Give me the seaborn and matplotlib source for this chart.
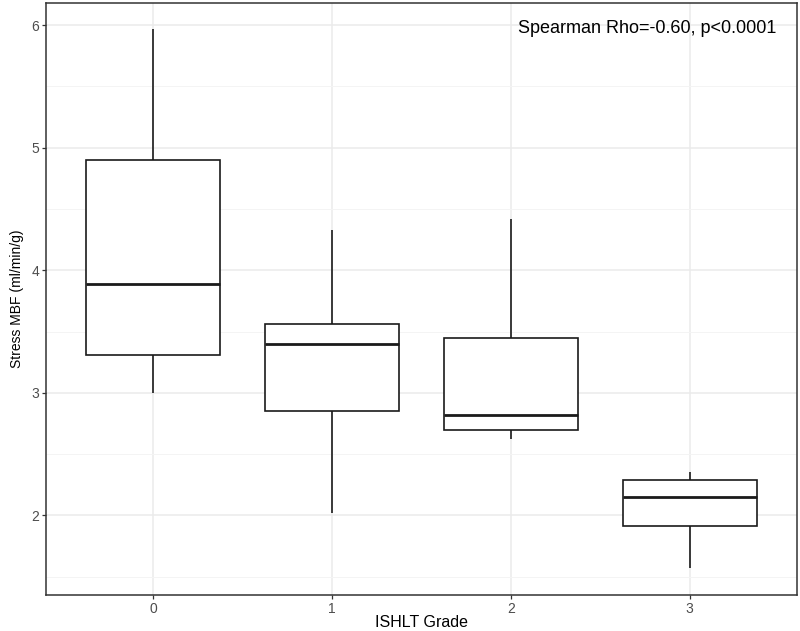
import matplotlib
matplotlib.use("Agg")
import matplotlib.pyplot as plt
from matplotlib.ticker import MultipleLocator
import numpy as np
import pandas as pd
import seaborn as sns

# five-number summaries (ml/min/g)
grades = ["0", "1", "2", "3"]
whisker_low = [3.00, 2.02, 2.62, 1.57]
q1 = [3.31, 2.85, 2.70, 1.91]
median = [3.89, 3.40, 2.82, 2.15]
q3 = [4.90, 3.56, 3.45, 2.29]
whisker_high = [5.97, 4.33, 4.42, 2.35]

annot = "Spearman Rho=-0.60, p<0.0001"

rows = []
for i, g in enumerate(grades):
    for v in (whisker_low[i], q1[i], median[i], q3[i], whisker_high[i]):
        rows.append((g, v))
df = pd.DataFrame(rows, columns=["ISHLT Grade", "Stress MBF (ml/min/g)"])

sns.set_style("white")
plt.rcParams["font.family"] = ["Liberation Sans", "DejaVu Sans"]

fig = plt.figure(figsize=(8, 6.31), dpi=100)
ax = fig.add_axes([0.0575, 0.057, 0.9385, 0.938])

line_col = "#1a1a1a"
sns.boxplot(data=df, x="ISHLT Grade", y="Stress MBF (ml/min/g)", order=grades,
            whis=(0, 100), width=0.75, color="white", linecolor=line_col,
            linewidth=1.2, showcaps=False, showfliers=False,
            medianprops=dict(linewidth=2.0, color=line_col), ax=ax, zorder=3)

ax.set_xlim(-0.6, 3.6)
ax.set_ylim(1.35, 6.18)
ax.yaxis.set_major_locator(MultipleLocator(1))
ax.yaxis.set_minor_locator(MultipleLocator(0.5))

ax.set_axisbelow(True)
ax.grid(True, which="major", color="#EBEBEB", linewidth=1.1)
ax.yaxis.grid(True, which="minor", color="#F4F4F4", linewidth=0.7)
ax.xaxis.grid(True, which="major", color="#EBEBEB", linewidth=1.1)

for s in ax.spines.values():
    s.set_visible(True)
    s.set_color("#333333")
    s.set_linewidth(1.1)

ax.tick_params(axis="both", which="major", direction="out", length=3, width=0.9,
               color="#333333", labelcolor="#4D4D4D", labelsize=10, pad=2)
ax.tick_params(axis="y", which="minor", length=0)
ax.tick_params(left=True, bottom=True)

ax.set_xlabel("ISHLT Grade", fontsize=11.5, color="black", va="center")
ax.xaxis.set_label_coords(0.5, -0.046)
ax.set_ylabel("Stress MBF (ml/min/g)", fontsize=10, color="black", labelpad=5)

ax.text(0.973, 0.958, annot, transform=ax.transAxes, ha="right", va="center",
        fontsize=13, color="black")

fig.savefig("out.png", dpi=100)
